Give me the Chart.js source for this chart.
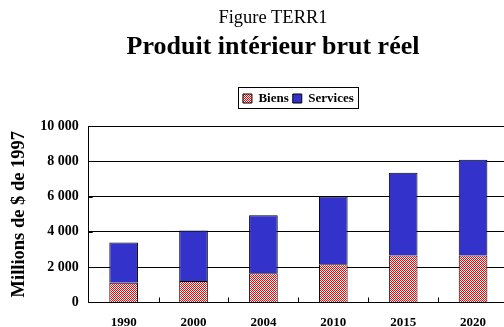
<!DOCTYPE html>
<html lang="fr">
<head>
<meta charset="utf-8">
<script src="https://cdn.jsdelivr.net/npm/chart.js@4.4.1/dist/chart.umd.min.js"></script>
<style>
  html, body { margin: 0; padding: 0; background: #fff; overflow: hidden; }
  #wrap { position: relative; width: 504px; height: 327px; overflow: hidden; }
  #graph { position: absolute; left: 0; top: 0; }
  .titre { position: absolute; left: 0; width: 546px; text-align: center; font-family: "Liberation Serif", "Times New Roman", serif; color: #000; line-height: 1; }
  #sur { top: 8px; font-size: 18.5px; }
  #titre { top: 33px; font-size: 26px; font-weight: bold; }
</style>
</head>
<body>
<div id="wrap">
  <canvas id="graph" width="512" height="342"></canvas>
  <div class="titre" id="sur">Figure TERR1</div>
  <div class="titre" id="titre">Produit intérieur brut réel</div>
</div>
<script>
// Années et valeurs (millions de $ de 1997)
const annees = ['1990', '2000', '2004', '2010', '2015', '2020'];
const biens = [1120, 1210, 1650, 2160, 2660, 2660];
const services = [2280, 2870, 3290, 3840, 4690, 5430];
const graduations = [0, 2000, 4000, 6000, 8000, 10000];

const police = '"Liberation Serif", "Times New Roman", serif';

// Motif en damier rouge et blanc pour les biens
function damier(){
    const c = document.createElement('canvas');
    c.width = 2; c.height = 2;
    const g = c.getContext('2d');
    g.fillStyle = '#ffffff';
    g.fillRect(0, 0, 2, 2);
    g.fillStyle = '#ff0000';
    g.fillRect(0, 0, 1, 1);
    g.fillRect(1, 1, 1, 1);
    return g.createPattern(c, 'repeat');
}
const motif = damier();

function milliers(v){
    return String(v).replace(/\B(?=(\d{3})+(?!\d))/g, ' ');
}

// Espace sous la légende + cadre + petites graduations vers l'intérieur
const extras = {
    id: 'extras',
    beforeLayout(chart){
        const lg = chart.legend;
        if(lg && !lg._espace){
            const fit = lg.fit;
            lg.fit = function(){
                fit.call(this);
                this.height += 11;
            };
            lg._espace = true;
        }
    },
    afterDraw(chart){
        const ctx = chart.ctx;
        const lg = chart.legend;
        ctx.save();
        ctx.strokeStyle = '#000';
        ctx.lineWidth = 1;
        if(lg && lg.legendHitBoxes.length){
            const hb = lg.legendHitBoxes;
            const x0 = Math.round(hb[0].left) - 4.5;
            const last = hb[hb.length - 1];
            const x1 = Math.round(last.left + last.width) + 4.5;
            const y0 = Math.round(hb[0].top) - 4.5;
            const y1 = Math.round(hb[0].top + hb[0].height) + 3.5;
            ctx.strokeRect(x0, y0, x1 - x0, y1 - y0);
        }
        const x = chart.scales.x, y = chart.scales.y;
        const bas = Math.round(y.bottom) + 0.5;
        ctx.beginPath();
        for(let i = 1; i < annees.length; i++){
            const px = Math.round((x.getPixelForValue(i - 1) + x.getPixelForValue(i)) / 2) + 0.5;
            ctx.moveTo(px, bas);
            ctx.lineTo(px, bas - 5);
        }
        graduations.forEach(v => {
            const py = Math.round(y.getPixelForValue(v)) + 0.5;
            ctx.moveTo(x.left, py);
            ctx.lineTo(x.left + 4, py);
        });
        ctx.stroke();
        ctx.restore();
    }
};

new Chart(document.getElementById('graph'), {
    type: 'bar',
    data: {
        labels: annees,
        datasets: [
            { label: 'Biens', data: biens, backgroundColor: motif, borderColor: '#000', borderWidth: 1 },
            { label: 'Services', data: services, backgroundColor: '#3333cc', borderColor: '#000', borderWidth: 1 }
        ]
    },
    options: {
        responsive: false,
        animation: false,
        layout: { padding: { top: 88, right: 4, left: 8, bottom: 0 } },
        datasets: { bar: { categoryPercentage: 1, barPercentage: 0.41 } },
        plugins: {
            legend: {
                position: 'top',
                fullSize: false,
                labels: {
                    font: { family: police, size: 13, weight: 'bold' },
                    color: '#000',
                    boxWidth: 9,
                    boxHeight: 9,
                    padding: 4
                }
            },
            tooltip: { enabled: false }
        },
        scales: {
            x: {
                stacked: true,
                grid: { display: false, drawTicks: false },
                border: { color: '#000', width: 1 },
                ticks: { font: { family: police, size: 13, weight: 'bold' }, color: '#000', padding: 12 }
            },
            y: {
                stacked: true,
                min: 0,
                max: 10000,
                afterBuildTicks(axis){ axis.ticks = graduations.map(v => ({ value: v })); },
                grid: { color: '#000', drawTicks: false },
                border: { color: '#000', width: 1 },
                ticks: {
                    font: { family: police, size: 14, weight: 'bold' },
                    color: '#000',
                    padding: 10,
                    callback: v => milliers(v)
                },
                title: {
                    display: true,
                    text: 'Millions de $ de 1997',
                    font: { family: police, size: 18.5, weight: 'bold' },
                    color: '#000',
                    padding: { top: 0, bottom: 0 }
                }
            }
        }
    },
    plugins: [extras]
});
</script>
</body>
</html>
